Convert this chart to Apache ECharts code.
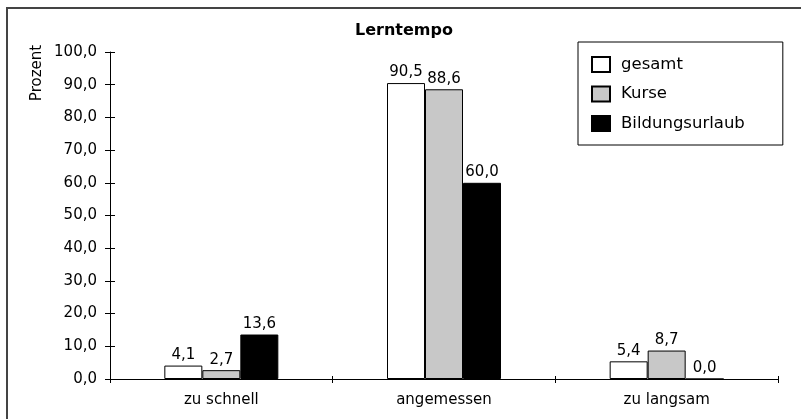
<!DOCTYPE html>
<html>
<head>
<meta charset="utf-8">
<script src="https://cdn.jsdelivr.net/npm/echarts@6/dist/echarts.min.js"></script>
<style>
  html, body { margin: 0; padding: 0; background: #fff; }
  #chart { width: 801px; height: 419px; }
</style>
</head>
<body>
<div id="chart"></div>
<script>
// Lerntempo – Anteile in Prozent
const categories = ['zu schnell', 'angemessen', 'zu langsam'];
const seriesNames = ['gesamt', 'Kurse', 'Bildungsurlaub'];
const gesamt = [4.1, 90.5, 5.4];
const kurse = [2.7, 88.6, 8.7];
const bildungsurlaub = [13.6, 60.0, 0.0];
const yTicks = { min: 0, max: 100, interval: 10 };

const FONT = 'DejaVu Sans';
const fmt = v => Number(v).toFixed(1).replace('.', ',');

const colors = ['#ffffff', '#c8c8c8', '#000000'];
const values = [gesamt, kurse, bildungsurlaub];

const chart = echarts.init(document.getElementById('chart'), null, { renderer: 'canvas' });

const grid = { left: 110, right: 23, top: 52, bottom: 40 };

chart.setOption({
  animation: false,
  backgroundColor: '#ffffff',
  textStyle: { fontFamily: FONT },
  title: {
    text: 'Lerntempo',
    left: 355,
    top: 23,
    padding: 0,
    textStyle: { fontFamily: FONT, fontSize: 16, fontWeight: 'bold', color: '#000' }
  },
  legend: {
    orient: 'vertical',
    left: 578,
    top: 42,
    padding: [14, 38, 13, 13],
    itemWidth: 18,
    itemHeight: 15,
    itemGap: 12.5,
    icon: 'rect',
    borderColor: '#000',
    borderWidth: 1,
    backgroundColor: '#fff',
    data: seriesNames,
    textStyle: { fontFamily: FONT, fontSize: 16.5, color: '#000', padding: [0, 0, 0, 6] }
  },
  graphic: [
    {
      type: 'rect',
      shape: { x: 7, y: 8, width: 830, height: 440 },
      style: { fill: 'none', stroke: '#444', lineWidth: 2 },
      silent: true
    },
    {
      type: 'text',
      x: 37,
      y: 73,
      rotation: Math.PI / 2,
      style: {
        text: 'Prozent',
        font: '15px "DejaVu Sans"',
        fill: '#000',
        align: 'center',
        verticalAlign: 'middle'
      }
    }
  ],
  grid: grid,
  xAxis: [
    {
      type: 'category',
      data: categories,
      axisLine: { lineStyle: { color: '#000', width: 1 } },
      axisTick: { show: true, length: 4, lineStyle: { color: '#000' } },
      axisLabel: { color: '#000', fontSize: 15, fontFamily: FONT, margin: 14 }
    },
    {
      type: 'category',
      data: categories,
      position: 'bottom',
      axisLine: { show: false },
      axisTick: { show: true, inside: true, length: 3, lineStyle: { color: '#000' } },
      axisLabel: { show: false }
    }
  ],
  yAxis: [
    {
      type: 'value',
      min: yTicks.min,
      max: yTicks.max,
      interval: yTicks.interval,
      axisLine: { show: true, lineStyle: { color: '#000', width: 1 } },
      axisTick: { show: true, length: 5, lineStyle: { color: '#000' } },
      splitLine: { show: false },
      axisLabel: { color: '#000', fontSize: 15, fontFamily: FONT, margin: 13, formatter: fmt }
    },
    {
      type: 'value',
      position: 'left',
      min: yTicks.min,
      max: yTicks.max,
      interval: yTicks.interval,
      axisLine: { show: false },
      axisTick: { show: true, inside: true, length: 5, lineStyle: { color: '#000' } },
      splitLine: { show: false },
      axisLabel: { show: false }
    }
  ],
  series: seriesNames.map((name, i) => ({
    name: name,
    type: 'bar',
    xAxisIndex: 0,
    yAxisIndex: 0,
    barWidth: 38,
    barGap: '0%',
    data: values[i],
    itemStyle: { color: colors[i], borderColor: '#000', borderWidth: 1 },
    label: {
      show: true,
      position: 'top',
      distance: 3,
      color: '#000',
      fontFamily: FONT,
      fontSize: 15,
      formatter: p => fmt(p.value)
    }
  }))
});
</script>
</body>
</html>
